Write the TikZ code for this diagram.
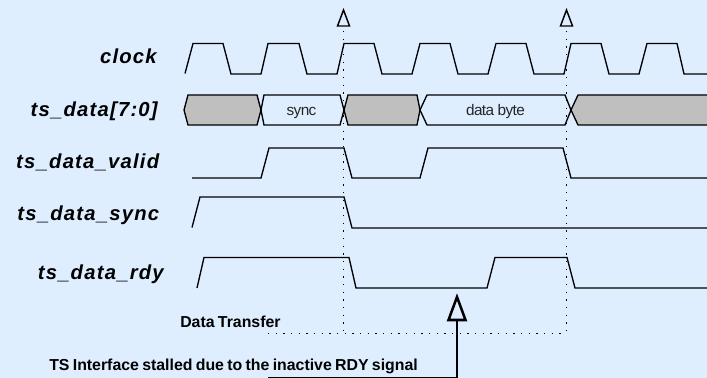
\documentclass[tikz,border=0pt]{standalone}
\usepackage{fontspec}
\setmainfont{Liberation Sans}
\newfontfamily\siglabelfont[LetterSpace=6]{Liberation Sans}
\newfontfamily\smallfont[LetterSpace=-4]{Liberation Sans}
\newfontfamily\notefont[WordSpace=0.75]{Liberation Sans}
\definecolor{bgc}{HTML}{DEEEFF}
\definecolor{busgrey}{HTML}{BFBFBF}
\tikzset{
  px/.style={x=0.75pt,y=-0.75pt},
  wave/.style={draw=black,line width=1pt,line join=miter},
  greybus/.style={wave,fill=busgrey},
  dots/.style={draw=black,line width=1.1pt,dash pattern=on 1pt off 4.75pt},
  siglabel/.style={font=\siglabelfont\bfseries\itshape\fontsize{15.2}{18}\selectfont,anchor=base east,inner sep=0pt,text=black},
  smalllabel/.style={font=\smallfont\fontsize{11.5}{13}\selectfont,anchor=base,inner sep=0pt,text=black!85},
  notelabel/.style={font=\notefont\bfseries\fontsize{11.9}{13}\selectfont,anchor=base west,inner sep=0pt,text=black},
  edge/.style={draw=black,line width=1.1pt,fill=bgc},
}
\begin{document}
\begin{tikzpicture}[px]
\useasboundingbox (0,0) rectangle (707,378);
\fill[bgc] (0,0) rectangle (707,378);
% labels
\node[siglabel] (lclock) at (157,64) {clock};
\node[siglabel] (ldata) at (158,116.5) {ts\_data[7:0]};
\node[siglabel] (lvalid) at (159.5,168.5) {ts\_data\_valid};
\node[siglabel] (lsync) at (159.5,220.5) {ts\_data\_sync};
\node[siglabel] (lrdy) at (164,279) {ts\_data\_rdy};
% clock
\draw[wave] (185,73.5)--(193,43.5)--(223,43.5)--(231,74)--(261,74)--(268,43.5)--(299,43.5)--(307,74)--(337,74)--(344,43.5)--(374,43.5)--(382,74)--(412,74)--(420,43.5)--(450,43.5)--(458,74)--(488,74)--(496,43.5)--(526,43.5)--(534,74)--(564,74)--(571,43.5)--(601,43.5)--(609,74)--(639,74)--(647,43.5)--(677,43.5)--(684,74)--(707,74);
% data bus
\draw[greybus] (184,110)--(188,95)--(257,95)--(261,110)--(257,125)--(188,125)--cycle;
\draw[wave] (261,110)--(264,95)--(340,95)--(344,110)--(340,125)--(264,125)--cycle;
\draw[greybus] (344,110)--(348,95)--(417,95)--(420,110)--(417,125)--(348,125)--cycle;
\draw[wave] (420,110)--(427,95)--(565,95)--(571,110)--(565,125)--(427,125)--cycle;
\draw[greybus] (708,95)--(578,95)--(571,110)--(578,125)--(708,125);
\node[smalllabel] (tsync) at (301.5,115) {sync};
\node[smalllabel] (tbyte) at (495.5,115) {data byte};
% valid
\draw[wave] (192,178)--(261,178)--(269,148)--(344,148)--(352,178)--(420,178)--(428,148)--(563,148)--(571,178)--(707,178);
% sync
\draw[wave] (192,227.5)--(200,197)--(344,197)--(352,228)--(707,228);
% rdy
\draw[wave] (197,288)--(204,257.5)--(349,257.5)--(356,288)--(487,288)--(495,257.5)--(567,257.5)--(575,288)--(707,288);
% dotted markers
\coordinate (m1top) at (343.5,31);
\coordinate (m2top) at (566.5,31);
\coordinate (m1bot) at (343.5,333.5);
\coordinate (m2bot) at (566.5,333.5);
\coordinate (hstart) at (268,333.5);
\draw[dots] (m1top)--(m1bot);
\draw[dots] (m2top)--(m2bot);
\draw[dots] (hstart)--(m2bot);
% clock triangles
\draw[edge,line join=miter] (343.5,10)--(337.5,26)--(349.5,26)--cycle;
\draw[edge,line join=miter] (566.5,10)--(560.5,26)--(572.5,26)--cycle;
% notes
\node[notelabel] (ndt) at (180,327) {Data Transfer};
\node[notelabel] (nts) at (49,370.5) {TS Interface stalled due to the inactive RDY signal};
% big arrow
\coordinate (arrowtail) at (268,378.2);
\coordinate (arrowbend) at (457,378.2);
\coordinate (arrowhead) at (457,320);
\draw[draw=black,line width=1.7pt] (arrowtail)--(arrowbend)--(arrowhead);
\draw[draw=black,line width=1.9pt,fill=bgc,line join=miter] (457,297)--(448.5,320)--(465.5,320)--cycle;
\end{tikzpicture}
\end{document}
